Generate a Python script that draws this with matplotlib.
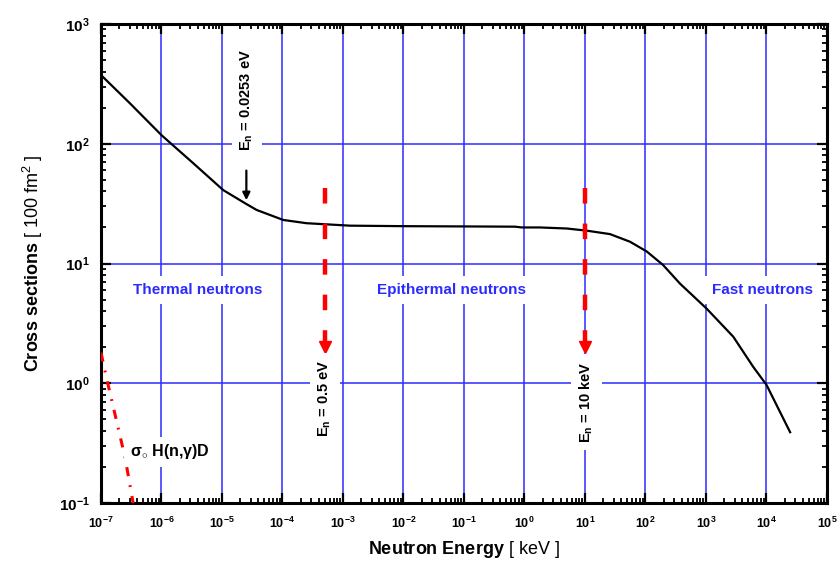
import matplotlib
matplotlib.use("Agg")
import matplotlib.pyplot as plt
from matplotlib.ticker import LogLocator, NullFormatter

plt.rcParams['font.family'] = ['Liberation Sans', 'DejaVu Sans']
plt.rcParams['mathtext.fontset'] = 'custom'
plt.rcParams['mathtext.rm'] = 'Liberation Sans'
plt.rcParams['mathtext.it'] = 'Liberation Sans:italic'
plt.rcParams['mathtext.bf'] = 'Liberation Sans:bold'

# total cross section (keV, 100 fm^2)
energy = [1.0e-7, 3.0e-7, 1e-6, 3.36e-6, 1.05e-5, 2.5e-5, 3.74e-5, 1.03e-4,
          2.5e-4, 1.3e-3, 1e-2, 0.1, 0.7, 0.9, 1.8, 5.0, 10.7, 25.9, 55.5,
          105.0, 196.0, 371.0, 1025.0, 2820.0, 6040.0, 1e4, 2.46e4]
sigma = [375, 218, 118, 68.7, 41, 31.5, 28, 23.1,
         21.7, 20.7, 20.5, 20.4, 20.3, 20.0, 20.0, 19.6, 18.8, 17.6, 15.2,
         12.6, 9.7, 6.8, 4.2, 2.45, 1.37, 0.97, 0.39]

# capture cross section H(n,g)D
cap_energy = [1e-7, 1.26e-7, 2.5e-7, 3.4e-7]
cap_sigma = [1.8, 1.06, 0.24, 0.1]

# region boundaries (keV)
e_thermal = 2.53e-5
e_epi = 5e-4
e_fast = 10.0

fig = plt.figure(figsize=(8.4, 5.66), dpi=100)
ax = fig.add_axes([0.1202, 0.1113, 0.8643, 0.8463])
ax.set_xscale('log')
ax.set_yscale('log')
ax.set_xlim(1e-7, 1e5)
ax.set_ylim(1e-1, 1e3)

blue = '#2b2bff'
ax.grid(True, which='major', color=blue, lw=1.1, zorder=0)
ax.set_axisbelow(True)

ax.plot(energy, sigma, color='black', lw=1.6, zorder=3)
ax.plot(cap_energy, cap_sigma, color='red', lw=2.2,
        dashes=(3, 3, 0.6, 3), zorder=3)

# boundary arrows
for e in (e_epi, e_fast):
    ax.plot([e, e], [43, 2.2], color='red', lw=3.2, dashes=(3.5, 4.5), zorder=4)
    ax.plot([e], [2.0], marker='v', color='red', ms=9, zorder=4)

ax.annotate('', xy=(e_thermal, 32), xytext=(e_thermal, 63),
            arrowprops=dict(arrowstyle='-|>', color='black', lw=1.6,
                            mutation_scale=11), zorder=4)

box = dict(facecolor='white', edgecolor='none', pad=5)
ax.text(2.6e-5, 230, r'E$_{\mathregular{n}}$ = 0.0253 eV', rotation=90,
        ha='center', va='center', fontsize=10.5, fontweight='bold',
        bbox=box, zorder=5)
ax.text(5e-4, 0.75, r'E$_{\mathregular{n}}$ = 0.5 eV', rotation=90,
        ha='center', va='center', fontsize=10.5, fontweight='bold',
        bbox=box, zorder=5)
ax.text(10.5, 0.7, r'E$_{\mathregular{n}}$ = 10 keV', rotation=90,
        ha='center', va='center', fontsize=10.5, fontweight='bold',
        bbox=box, zorder=5)

for x, label in [(3.9e-6, 'Thermal neutrons'), (0.063, 'Epithermal neutrons'),
                 (8500, 'Fast neutrons')]:
    ax.text(x, 6.0, label, color=blue, fontsize=11, fontweight='bold',
            ha='center', va='center', bbox=dict(facecolor='white',
            edgecolor='none', pad=5), zorder=5)

ax.text(3.0e-7, 0.267, r'$\mathbf{\sigma_{\circ}}$ H(n,$\mathbf{\gamma}$)D',
        fontsize=11.5, fontweight='bold', ha='left', va='center',
        bbox=dict(facecolor='white', edgecolor='none', pad=4), zorder=5)

# ticks on all four sides, pointing inward
ax.xaxis.set_minor_locator(LogLocator(base=10, subs=range(2, 10), numticks=20))
ax.yaxis.set_minor_locator(LogLocator(base=10, subs=range(2, 10), numticks=20))
ax.xaxis.set_minor_formatter(NullFormatter())
ax.yaxis.set_minor_formatter(NullFormatter())

xt = [10.0 ** k for k in range(-7, 6)]
ax.set_xticks(xt)
ax.set_xticklabels([r'$\mathbf{10^{%d}}$' % k for k in range(-7, 6)], fontsize=9)
yt = [10.0 ** k for k in range(-1, 4)]
ax.set_yticks(yt)
ax.set_yticklabels([r'$\mathbf{10^{%d}}$' % k for k in range(-1, 4)], fontsize=11)

ax.tick_params(which='both', direction='in', top=True, right=True, color='black')
ax.tick_params(which='major', length=7, width=1.6)
ax.tick_params(which='minor', length=3.5, width=1.3)
ax.tick_params(axis='x', which='major', pad=9)
ax.tick_params(axis='y', which='major', pad=8)
for s in ax.spines.values():
    s.set_linewidth(2.2)

ax.set_xlabel(r'$\mathbf{Neutron\ Energy}$ [ keV ]', fontsize=13, labelpad=6)
ax.set_ylabel(r'$\mathbf{Cross\ sections}$ [ 100 fm$^2$ ]', fontsize=13, labelpad=10)

fig.savefig('out.png', dpi=100)
